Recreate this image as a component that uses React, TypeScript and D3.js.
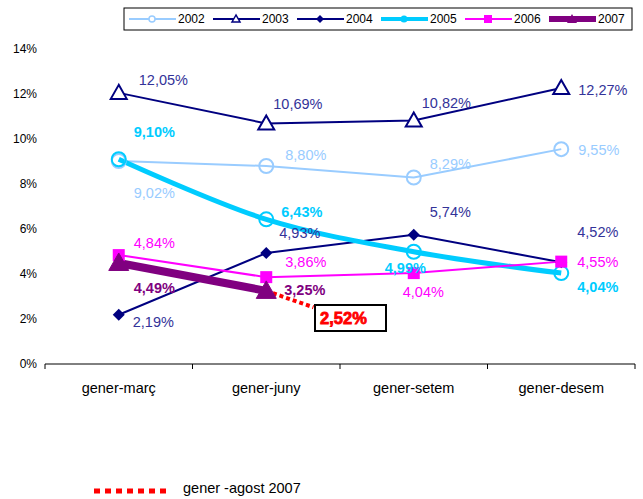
import React from "react";
import * as d3 from "d3";

const W = 643;
const H = 499;

const categories = ["gener-març", "gener-juny", "gener-setem", "gener-desem"];
const yTicks = [0, 2, 4, 6, 8, 10, 12, 14];

const s2002 = [9.02, 8.8, 8.29, 9.55];
const s2003 = [12.05, 10.69, 10.82, 12.27];
const s2004 = [2.19, 4.93, 5.74, 4.52];
const s2005 = [9.1, 6.43, 4.99, 4.04];
const s2006 = [4.84, 3.86, 4.04, 4.55];
const s2007 = [4.49, 3.25];

// gener-agost 2007 projection: from gener-juny 2007 to 2,52%
const agostPos = [1, 1.32];
const agostVals = [3.25, 2.52];
const agostLabel = "2,52%";
const agostLegend = "gener -agost 2007";

const fmt = (v: number) => v.toFixed(2).replace(".", ",") + "%";

// label offsets (dx, dy) relative to each point
const series = [
  { name: "2002", vals: s2002, color: "#99CCFF", text: "#99CCFF", width: 2, marker: "circle", bold: false,
    off: [[15, 32], [19, -11], [16, -14], [17, 1]] },
  { name: "2003", vals: s2003, color: "#000080", text: "#333399", width: 2, marker: "triOpen", bold: false,
    off: [[20, -13], [7, -20], [8, -18], [17, 2]] },
  { name: "2004", vals: s2004, color: "#000080", text: "#333399", width: 2, marker: "diamond", bold: false,
    off: [[14, 7], [13, -20], [16, -23], [16, -30]] },
  { name: "2005", vals: s2005, color: "#00CCFF", text: "#00CCFF", width: 5, marker: "circle", bold: true,
    off: [[15, -27], [15, -7], [-29, 16], [16, 14]] },
  { name: "2006", vals: s2006, color: "#FF00FF", text: "#FF00FF", width: 2, marker: "square", bold: false,
    off: [[15, -12], [19, -15], [-11, 19], [16, 0]] },
  { name: "2007", vals: s2007, color: "#800080", text: "#800080", width: 8, marker: "triFill", bold: true,
    off: [[15, 25], [18, -1]] },
];

const x = d3.scaleBand<string>().domain(categories).range([45, 635]);
const xi = (i: number) => (x(categories[0]) as number) + x.bandwidth() / 2 + i * x.step();
const y = d3.scaleLinear().domain([0, 14]).range([364, 49]);

function Marker({ type, cx, cy, color, size }: { type: string; cx: number; cy: number; color: string; size: number }) {
  if (type === "circle") {
    return <circle cx={cx} cy={cy} r={size} fill="none" stroke={color} strokeWidth={2} />;
  }
  if (type === "triOpen" || type === "triFill") {
    const s = size;
    const pts = `${cx},${cy - s} ${cx - s},${cy + s * 0.75} ${cx + s},${cy + s * 0.75}`;
    return type === "triOpen" ? (
      <polygon points={pts} fill="white" stroke={color} strokeWidth={2} />
    ) : (
      <polygon points={pts} fill={color} stroke={color} strokeWidth={1} />
    );
  }
  if (type === "diamond") {
    return <polygon points={`${cx},${cy - size} ${cx + size},${cy} ${cx},${cy + size} ${cx - size},${cy}`} fill={color} />;
  }
  return <rect x={cx - size} y={cy - size} width={size * 2} height={size * 2} fill={color} />;
}

const markerSize: Record<string, number> = { circle: 7, triOpen: 8, diamond: 6, square: 6, triFill: 10 };

export default function App() {
  const font = "'Liberation Sans', Arial, sans-serif";
  const line = d3.line<number>().x((_, i) => xi(i)).y((d) => y(d));
  const smooth = d3.line<number>().x((_, i) => xi(i)).y((d) => y(d)).curve(d3.curveCatmullRom.alpha(0.5));
  const agostLine = d3.line<number>().x((_, i) => xi(agostPos[i])).y((d) => y(d));

  const legendX = 129;
  const legendStep = 84;

  return (
    <svg width={W} height={H} style={{ position: "absolute", left: 0, top: 0, background: "white" }} fontFamily={font}>
      <rect width={W} height={H} fill="white" />
      {/* y tick labels */}
      {yTicks.map((t) => (
        <text key={t} x={37} y={y(t)} dy="0.35em" textAnchor="end" fontSize={12} fill="#000">
          {t}%
        </text>
      ))}
      {/* x axis */}
      <line x1={45} x2={635} y1={364} y2={364} stroke="#000" strokeWidth={1} />
      {categories.concat([""]).map((c, i) => {
        const px = 45 + i * x.step();
        return <line key={"t" + i} x1={px} x2={px} y1={364} y2={369} stroke="#000" />;
      })}
      {categories.map((c, i) => (
        <text key={c} x={xi(i)} y={388} dy="0.35em" textAnchor="middle" fontSize={14.5} fill="#000">
          {c}
        </text>
      ))}

      {/* series lines */}
      {series.map((s) => (
        <path
          key={"l" + s.name}
          d={(s.name === "2005" ? smooth : line)(s.vals) as string}
          fill="none"
          stroke={s.color}
          strokeWidth={s.width}
        />
      ))}
      {/* agost dotted projection */}
      <path d={agostLine(agostVals) as string} fill="none" stroke="#FF0000" strokeWidth={4} strokeDasharray="4 3" />

      {/* markers */}
      {series.map((s) =>
        s.vals.map((v, i) => (
          <Marker key={s.name + i} type={s.marker} cx={xi(i)} cy={y(v)} color={s.color} size={markerSize[s.marker]} />
        ))
      )}

      {/* data labels */}
      {series.map((s) =>
        s.vals.map((v, i) => (
          <text
            key={"d" + s.name + i}
            x={xi(i) + s.off[i][0]}
            y={y(v) + s.off[i][1]}
            dy="0.35em"
            fontSize={14.5}
            fontWeight={s.bold ? "bold" : "normal"}
            fill={s.text}
          >
            {fmt(v)}
          </text>
        ))
      )}

      {/* 2,52% box */}
      <rect x={315} y={305} width={71} height={26} fill="white" stroke="#000" strokeWidth={2} />
      <text x={343.5} y={318} dy="0.36em" textAnchor="middle" fontSize={16.5} fontWeight="bold" fill="#FF0000" stroke="#FF0000" strokeWidth={0.8}>
        {agostLabel}
      </text>

      {/* legend */}
      <rect x={124} y={8} width={508} height={22} fill="white" stroke="#000" strokeWidth={1} />
      {series.map((s, i) => {
        const lx = legendX + i * legendStep;
        const cy = 19;
        const mid = lx + 23;
        return (
          <g key={"lg" + s.name}>
            <line x1={lx} x2={lx + 47} y1={cy} y2={cy} stroke={s.color} strokeWidth={s.width === 2 ? 2 : s.width === 5 ? 4 : 6} />
            {s.marker === "circle" && s.name === "2002" && (
              <circle cx={mid} cy={cy} r={3} fill="white" stroke={s.color} strokeWidth={1.5} />
            )}
            {s.marker === "circle" && s.name === "2005" && <circle cx={mid} cy={cy} r={3.5} fill={s.color} />}
            {s.marker === "triOpen" && (
              <polygon points={`${mid},${cy - 4} ${mid - 4},${cy + 3} ${mid + 4},${cy + 3}`} fill="white" stroke={s.color} strokeWidth={1.5} />
            )}
            {s.marker === "diamond" && (
              <polygon points={`${mid},${cy - 4} ${mid + 4},${cy} ${mid},${cy + 4} ${mid - 4},${cy}`} fill={s.color} />
            )}
            {s.marker === "square" && <rect x={mid - 4} y={cy - 4} width={8} height={8} fill={s.color} />}
            {s.marker === "triFill" && (
              <polygon points={`${mid},${cy - 5} ${mid - 5},${cy + 4} ${mid + 5},${cy + 4}`} fill={s.color} />
            )}
            <text x={lx + 49} y={cy} dy="0.35em" fontSize={12} fill="#000">
              {s.name}
            </text>
          </g>
        );
      })}

      {/* bottom legend for dotted line */}
      <line x1={94} x2={168} y1={491} y2={491} stroke="#FF0000" strokeWidth={5} strokeDasharray="6 5" />
      <text x={183} y={488} dy="0.35em" fontSize={14.5} fill="#000">
        {agostLegend}
      </text>
    </svg>
  );
}
